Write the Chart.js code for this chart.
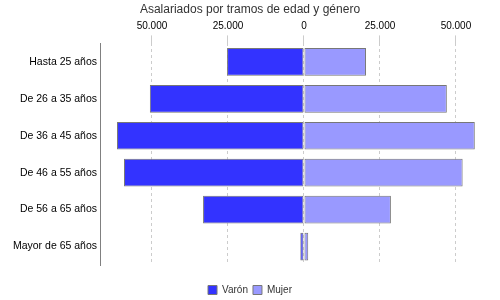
<!DOCTYPE html>
<html>
<head>
<meta charset="utf-8">
<script src="https://cdn.jsdelivr.net/npm/chart.js@4/dist/chart.umd.min.js"></script>
<style>
  html, body { margin: 0; padding: 0; background: #fff; }
  #wrap { width: 500px; height: 300px; }
</style>
</head>
<body>
<div id="wrap"><canvas id="piramide" width="500" height="300"></canvas></div>
<script>
// Asalariados por tramos de edad y género
const tramos = ['Hasta 25 años', 'De 26 a 35 años', 'De 36 a 45 años', 'De 46 a 55 años', 'De 56 a 65 años', 'Mayor de 65 años'];
const varon = [25300, 50700, 61500, 59200, 33200, 1200];
const mujer = [20400, 47000, 56200, 52200, 28600, 1400];
const tickValues = [-50000, -25000, 0, 25000, 50000];

const FONT = 'Arial, "Liberation Sans", sans-serif';

function fmtMiles(v) {
  return String(Math.abs(Math.round(v))).replace(/\B(?=(\d{3})+(?!\d))/g, '.');
}

const ctx = document.getElementById('piramide');

new Chart(ctx, {
  type: 'bar',
  data: {
    labels: tramos,
    datasets: [
      {
        label: 'Varón',
        data: varon.map(v => -v),
        backgroundColor: '#3333ff',
        borderColor: '#777',
        borderWidth: 1,
        borderSkipped: false
      },
      {
        label: 'Mujer',
        data: mujer,
        backgroundColor: '#9999ff',
        borderColor: '#777',
        borderWidth: 1,
        borderSkipped: false
      }
    ]
  },
  options: {
    indexAxis: 'y',
    responsive: false,
    animation: false,
    layout: { padding: { left: 10, right: 10, top: 0, bottom: -5 } },
    datasets: { bar: { barPercentage: 0.75, categoryPercentage: 1 } },
    plugins: {
      title: {
        display: true,
        text: 'Asalariados por tramos de edad y género',
        color: '#333',
        font: { family: FONT, size: 12, weight: 'normal' },
        padding: { top: 2, bottom: 1 }
      },
      legend: {
        position: 'bottom',
        labels: {
          color: '#333',
          boxWidth: 9,
          boxHeight: 9,
          padding: 5,
          font: { family: FONT, size: 10 }
        }
      },
      tooltip: { enabled: false }
    },
    scales: {
      x: {
        position: 'top',
        stacked: true,
        min: -67100,
        max: 61200,
        afterBuildTicks: scale => { scale.ticks = tickValues.map(v => ({ value: v })); },
        ticks: {
          color: '#000',
          padding: 3,
          font: { family: FONT, size: 10 },
          callback: v => fmtMiles(v)
        },
        grid: {
          color: '#cccccc',
          tickLength: 8,
          drawOnChartArea: true
        },
        border: { display: false, dash: [3, 3] }
      },
      xBottom: {
        type: 'linear',
        position: 'bottom',
        display: true,
        afterFit: scale => { scale.height = 15; },
        ticks: { display: false },
        grid: { display: false },
        border: { display: false }
      },
      y: {
        stacked: true,
        afterFit: scale => { scale.width = 90; },
        ticks: {
          color: '#000',
          padding: 3,
          font: { family: FONT, size: 10.5 }
        },
        grid: { display: false, drawTicks: false },
        border: { display: true, color: '#808080', width: 1 }
      }
    }
  }
});
</script>
</body>
</html>
